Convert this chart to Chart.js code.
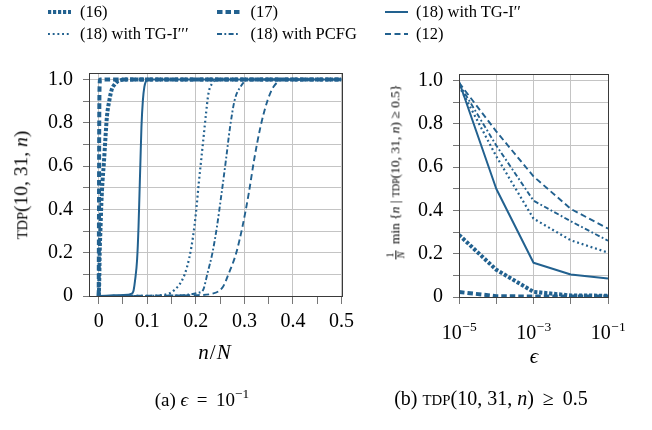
<!DOCTYPE html>
<html><head><meta charset="utf-8">
<script src="https://cdn.jsdelivr.net/npm/chart.js@4.4.1/dist/chart.umd.min.js"></script>
<style>
body{margin:0;width:652px;height:430px;position:relative;background:#fff;font-family:"Liberation Serif","Times New Roman",serif;color:#000;overflow:hidden}
canvas{position:absolute;top:0}
#cL{left:0}
#cR{left:360px}
.lg{position:absolute;font-size:16.5px;white-space:nowrap;line-height:16px}
.sw{position:absolute}
.t{position:absolute;white-space:nowrap;line-height:1}
.rot{transform:translate(-50%,-50%) rotate(-90deg)}
.ctr{transform:translate(-50%,-50%)}
.sc{font-size:0.74em}
.frac{display:inline-block;vertical-align:middle;text-align:center;font-size:0.75em;line-height:1;margin-right:3px}
.frac span{display:block;padding:0 1px}
.frac .num{border-bottom:0.6px solid #000}
.sp{display:inline-block;width:0.2em}
</style></head><body>
<canvas id="cL" width="360" height="430"></canvas>
<canvas id="cR" width="292" height="430"></canvas>
<div id="legend"></div>
<div class="t rot" style="left:21px;top:185px;font-size:19.5px"><span class="sc">TDP</span>(10, 31, <i>n</i>)</div>
<div class="t rot" style="left:396px;top:172px;font-size:13.5px"><span class="frac"><span class="num">1</span><span><i>N</i></span></span> min {<i>n</i> | <span class="sc">TDP</span>(10, 31, <i>n</i>) ≥ 0.5}</div>
<div class="t ctr" style="left:215px;top:352px;font-size:21px;letter-spacing:1px"><i>n</i>/<i>N</i></div>
<div class="t ctr" style="left:534px;top:356px;font-size:21px"><i>ϵ</i></div>
<div class="t ctr" style="left:202px;top:398px;font-size:19px">(a) <i>ϵ</i><span class="sp"></span> = <span class="sp"></span>10<sup style="font-size:0.7em">−1</sup></div>
<div class="t ctr" style="left:491px;top:398px;font-size:20px">(b) <span class="sc">TDP</span>(10, 31, <i>n</i>)<span class="sp"></span> ≥ <span class="sp"></span>0.5</div>
<script>
// ---------- data ----------
const seriesLabels = ["(16)", "(17)", "(18) with TG-I′′", "(18) with TG-I′′′", "(18) with PCFG", "(12)"];

// (a) eps = 1e-1 : TDP(10,31,n) vs n/N
const a16x = [0, 0.001, 0.002, 0.0035, 0.0055, 0.008, 0.0105, 0.014, 0.017, 0.022, 0.027, 0.032, 0.038, 0.045, 0.055, 0.5];
const a16y = [0, 0.06, 0.2, 0.30, 0.43, 0.535, 0.61, 0.735, 0.83, 0.905, 0.955, 0.975, 0.99, 0.997, 1.0, 1.0];
const a17x = [0, 0.0005, 0.001, 0.0015, 0.002, 0.003, 0.5];
const a17y = [0, 0.35, 0.75, 0.93, 0.98, 1.0, 1.0];
const a18ax = [0, 0.03, 0.06, 0.065, 0.07, 0.072, 0.075, 0.079, 0.082, 0.084, 0.086, 0.088, 0.091, 0.094, 0.097, 0.1, 0.105, 0.5];
const a18ay = [0, 0.003, 0.006, 0.008, 0.015, 0.028, 0.074, 0.166, 0.32, 0.474, 0.628, 0.78, 0.905, 0.966, 0.99, 0.998, 1, 1];
const a18bx = [0, 0.1, 0.14, 0.156, 0.172, 0.182, 0.191, 0.197, 0.2015, 0.206, 0.211, 0.216, 0.221, 0.226, 0.233, 0.243, 0.5];
const a18by = [0, 0.001, 0.008, 0.028, 0.074, 0.135, 0.228, 0.32, 0.412, 0.52, 0.628, 0.735, 0.843, 0.935, 0.98, 1, 1];
const a18cx = [0, 0.15, 0.19, 0.205, 0.215, 0.224, 0.234, 0.2435, 0.253, 0.262, 0.2705, 0.28, 0.292, 0.308, 0.5];
const a18cy = [0, 0.002, 0.008, 0.015, 0.028, 0.105, 0.197, 0.32, 0.474, 0.628, 0.78, 0.905, 0.966, 1, 1];
const a12x = [0, 0.2, 0.236, 0.256, 0.268, 0.283, 0.296, 0.309, 0.32, 0.333, 0.348, 0.36, 0.376, 0.393, 0.5];
const a12y = [0, 0.004, 0.012, 0.043, 0.105, 0.197, 0.32, 0.474, 0.628, 0.78, 0.905, 0.966, 0.997, 1, 1];

// (b) TDP >= 0.5 : (1/N) min n vs eps
const eps = [1e-5, 1e-4, 1e-3, 1e-2, 1e-1];
const b16 = [0.287, 0.126, 0.024, 0.007, 0.006];
const b17 = [0.023, 0.004, 0.002, 0.002, 0.002];
const b18a = [0.995, 0.50, 0.158, 0.104, 0.085];
const b18b = [0.975, 0.65, 0.362, 0.262, 0.205];
const b18c = [0.985, 0.70, 0.445, 0.35, 0.26];
const b12 = [0.99, 0.765, 0.557, 0.407, 0.316];

// ticks
const axTicks = [0, 0.05, 0.1, 0.15, 0.2, 0.25, 0.3, 0.35, 0.4, 0.45, 0.5];
const axLabels = ["0", "", "0.1", "", "0.2", "", "0.3", "", "0.4", "", "0.5"];
const yTicks = [0, 0.1, 0.2, 0.3, 0.4, 0.5, 0.6, 0.7, 0.8, 0.9, 1.0];
const yLabels = ["0", "", "0.2", "", "0.4", "", "0.6", "", "0.8", "", "1.0"];
const bxTicks = [1e-5, 1e-4, 1e-3, 1e-2, 1e-1];
const bxLabelExp = [-5, null, -3, null, -1];

// ---------- styles ----------
const C = '#22618f';
const styles = [
  {w: 4.0, dash: [3.2, 1.8]},
  {w: 4.0, dash: [5.5, 3]},
  {w: 2.0, dash: []},
  {w: 2.2, dash: [1.9, 2.8]},
  {w: 1.9, dash: [5, 2.4, 1.8, 2.4]},
  {w: 1.9, dash: [6, 3.5]}
];
const GRID = '#c4c4c4';
const TICKC = '#777';
const FONT = {family: '"Liberation Serif","Times New Roman",serif', size: 20};

function pairs(xs, ys) { return xs.map((x, i) => ({x: x, y: ys[i]})); }
function mkDs(list, smooth) {
  return list.map((d, i) => ({
    label: seriesLabels[i], data: d,
    borderColor: C, backgroundColor: C, borderWidth: styles[i].w, borderDash: styles[i].dash,
    borderCapStyle: 'butt', borderJoinStyle: 'round',
    pointRadius: 0, fill: false, tension: 0,
    cubicInterpolationMode: smooth ? 'monotone' : 'default'
  }));
}

const framePlugin = {
  id: 'frame',
  afterDraw(chart) {
    const {ctx, chartArea: a} = chart;
    ctx.save();
    ctx.strokeStyle = '#3a3a3a'; ctx.lineWidth = 1;
    ctx.strokeRect(Math.round(a.left) + 0.5, Math.round(a.top) + 0.5, Math.round(a.right) - Math.round(a.left), Math.round(a.bottom) - Math.round(a.top));
    ctx.restore();
  }
};

const powLabelPlugin = {
  id: 'powLabels',
  afterDraw(chart) {
    if (chart.canvas.id !== 'cR') return;
    const {ctx} = chart; const sx = chart.scales.x;
    ctx.save(); ctx.fillStyle = '#000'; ctx.textBaseline = 'alphabetic'; ctx.textAlign = 'left';
    const big = '20px "Liberation Serif","Times New Roman",serif';
    const small = '13.5px "Liberation Serif","Times New Roman",serif';
    bxTicks.forEach((v, i) => {
      const e = bxLabelExp[i]; if (e === null) return;
      const px = sx.getPixelForValue(v);
      ctx.font = big;
      const w1 = ctx.measureText('10').width;
      const sup = '\u2212' + Math.abs(e);
      ctx.font = small;
      const w2 = ctx.measureText(sup).width;
      const x0 = px - (w1 + w2) / 2;
      ctx.font = big;
      ctx.fillText('10', x0, 338.5);
      ctx.font = small;
      ctx.fillText(sup, x0 + w1 + 0.5, 331);
    });
    ctx.restore();
  }
};

function yScale(width) {
  return {
    min: 0, max: 1.03,
    afterBuildTicks: s => { s.ticks = yTicks.map(v => ({value: v})); },
    afterFit: s => { s.width = width; },
    grid: {color: GRID, lineWidth: 1, tickColor: TICKC, tickLength: 6, drawTicks: true},
    border: {display: true, color: '#3a3a3a'},
    ticks: {font: FONT, color: '#000', padding: 10, autoSkip: false, callback: (v, i) => yLabels[i]}
  };
}

new Chart(document.getElementById('cL'), {
  type: 'line',
  data: {datasets: mkDs([pairs(a16x, a16y), pairs(a17x, a17y), pairs(a18ax, a18ay), pairs(a18bx, a18by), pairs(a18cx, a18cy), pairs(a12x, a12y)], true)},
  options: {
    responsive: false, animation: false, parsing: false,
    layout: {padding: {left: 0, right: 18, top: 73, bottom: 0}},
    plugins: {legend: {display: false}, tooltip: {enabled: false}},
    scales: {
      x: {
        type: 'linear', min: -0.02, max: 0.5,
        afterBuildTicks: s => { s.ticks = axTicks.map(v => ({value: v})); },
        afterFit: s => { s.height = 134; },
        grid: {color: c => (c.index % 2 === 0 ? GRID : 'rgba(0,0,0,0)'), tickColor: TICKC, tickLength: 8, drawTicks: true},
        border: {display: true, color: '#3a3a3a'},
        ticks: {font: FONT, color: '#000', padding: 6, autoSkip: false, maxRotation: 0, callback: (v, i) => axLabels[i]}
      },
      y: yScale(89)
    }
  },
  plugins: [framePlugin]
});

new Chart(document.getElementById('cR'), {
  type: 'line',
  data: {datasets: mkDs([pairs(eps, b16), pairs(eps, b17), pairs(eps, b18a), pairs(eps, b18b), pairs(eps, b18c), pairs(eps, b12)], false)},
  options: {
    responsive: false, animation: false, parsing: false,
    layout: {padding: {left: 0, right: 44, top: 74, bottom: 0}},
    plugins: {legend: {display: false}, tooltip: {enabled: false}},
    scales: {
      x: {
        type: 'logarithmic', min: 1e-5, max: 1e-1,
        afterBuildTicks: s => { s.ticks = bxTicks.map(v => ({value: v})); },
        afterFit: s => { s.height = 133; },
        grid: {color: GRID, tickColor: TICKC, tickLength: 7, drawTicks: true},
        border: {display: true, color: '#3a3a3a'},
        ticks: {font: FONT, color: '#000', autoSkip: false, maxRotation: 0, callback: () => ''}
      },
      y: yScale(99)
    }
  },
  plugins: [framePlugin, powLabelPlugin]
});

// ---------- legend (HTML) ----------
const lgCols = [{sx: 48, tx: 80}, {sx: 217, tx: 250.5}, {sx: 385, tx: 416}];
const lgRows = [11.5, 34];
const lg = document.getElementById('legend');
seriesLabels.forEach((lab, i) => {
  const col = lgCols[i % 3], row = lgRows[Math.floor(i / 3)];
  const st = styles[i];
  const svg = '<svg class="sw" style="left:' + col.sx + 'px;top:' + (row - 5) + 'px" width="23" height="10">' +
    '<line x1="0" y1="5" x2="23" y2="5" stroke="' + C + '" stroke-width="' + st.w + '"' +
    (st.dash.length ? ' stroke-dasharray="' + st.dash.join(',') + '"' : '') + '/></svg>';
  lg.insertAdjacentHTML('beforeend', svg +
    '<div class="lg" style="left:' + col.tx + 'px;top:' + (row - 8) + 'px">' + lab + '</div>');
});
</script>
</body></html>
